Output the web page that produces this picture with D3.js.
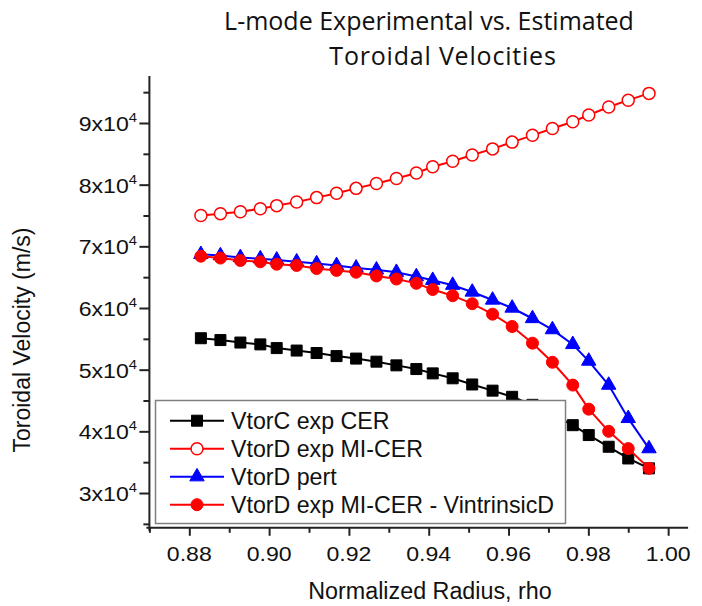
<!DOCTYPE html>
<html><head><meta charset="utf-8">
<script src="https://cdn.jsdelivr.net/npm/d3@7"></script>
<style>
html,body{margin:0;padding:0;background:#fff;}
svg{display:block;}
text{font-family:"Liberation Sans",Arial,sans-serif;fill:#111;}
</style></head>
<body><svg id="chart" width="702" height="606"></svg>
<script>
// ---- data ----
const rho = [0.8829,0.8878,0.8928,0.8978,0.9019,0.9069,0.9119,0.9169,0.9218,0.9269,0.9319,0.9369,
             0.9410,0.9460,0.9509,0.9560,0.9609,0.9660,0.9710,0.9761,0.9801,0.9851,0.9900,0.9952];
const vtorC_CER = [55100,54800,54400,54100,53500,53100,52700,52200,51800,51300,50700,50100,
                   49400,48600,47600,46600,45600,44300,42700,41000,39400,37500,35600,34000];
const vtorD_MICER = [75000,75300,75600,76100,76600,77200,77900,78600,79400,80200,81000,81900,
                     82900,83800,84800,85800,86900,88000,89100,90200,91300,92600,93700,94800];
const vtorD_pert = [68700,68500,68200,68000,67800,67500,67200,66900,66500,66200,65800,65100,
                    64500,63700,62600,61300,60000,58300,56500,54100,51400,47500,42100,37200];
const vtorD_MICER_Vint = [68400,68100,67700,67500,67100,66900,66400,66100,65800,65200,64700,64000,
                          63000,62000,60700,59000,57000,54300,51200,47500,43600,40000,37200,34000];
const seriesNames = ["VtorC exp CER","VtorD exp MI-CER","VtorD pert","VtorD exp MI-CER - VintrinsicD"];
const xTicks = [0.88,0.90,0.92,0.94,0.96,0.98,1.00];
const xMinorTicks = [0.87,0.89,0.91,0.93,0.95,0.97,0.99];
const yTickMantissa = [3,4,5,6,7,8,9];
const yMinorTicks = [25000,35000,45000,55000,65000,75000,85000,95000];
const titleLines = ["L-mode Experimental vs. Estimated","Toroidal Velocities"];
const xTitle = "Normalized Radius, rho";
const yTitle = "Toroidal Velocity (m/s)";

// ---- scales ----
const x = d3.scaleLinear().domain([0.87,1.005]).range([149.4,688.1]);
const y = d3.scaleLinear().domain([24360,97620]).range([527.8,76]);
const svg = d3.select("#chart");

// ---- title ----
const titleX = [429,443], titleSpacing = ["0px","0.8px"];
svg.selectAll("text.title").data(titleLines).join("text")
  .attr("class","title").attr("x",(d,i)=>titleX[i]).attr("y",(d,i)=>30+i*35)
  .attr("text-anchor","middle").style("font-family","'Open Sans',sans-serif")
  .style("letter-spacing",(d,i)=>titleSpacing[i])
  .style("font-size","25px").text(d=>d);

// ---- axes ----
const axCol = "#222";
const gx = svg.append("g").attr("transform",`translate(0,${y.range()[0]})`);
gx.call(d3.axisBottom(x).tickValues(xTicks).tickSize(8).tickFormat(""));
const gxm = svg.append("g").attr("transform",`translate(0,${y.range()[0]})`);
gxm.call(d3.axisBottom(x).tickValues(xMinorTicks).tickSize(5).tickFormat(""));
[gx,gxm].forEach(g=>{g.select(".domain").remove();g.selectAll("line").attr("stroke",axCol).attr("stroke-width",2);});
const fmt = d3.format(".2f");
svg.append("g").selectAll("text").data(xTicks).join("text")
  .attr("transform",d=>`translate(${x(d)},561) scale(1.1,1)`)
  .attr("text-anchor","middle").style("font-size","21px").text(d=>fmt(d));

const gy = svg.append("g").attr("transform",`translate(${x.range()[0]},0)`);
gy.call(d3.axisLeft(y).tickValues(yTickMantissa.map(m=>m*1e4)).tickSize(10).tickFormat(""));
const gym = svg.append("g").attr("transform",`translate(${x.range()[0]},0)`);
gym.call(d3.axisLeft(y).tickValues(yMinorTicks).tickSize(6).tickFormat(""));
[gy,gym].forEach(g=>{g.select(".domain").remove();g.selectAll("line").attr("stroke",axCol).attr("stroke-width",2);});
// y tick labels with superscripts
const yl = svg.append("g");
yTickMantissa.forEach(m=>{
  const t = yl.append("text").attr("transform",`translate(137,${y(m*1e4)+8}) scale(1.1,1)`)
    .attr("text-anchor","end").style("font-size","21px");
  t.append("tspan").text(m+"x10");
  t.append("tspan").attr("dy",-9).style("font-size","13.5px").text("4");
});
// axis lines
svg.append("line").attr("x1",x.range()[0]-3).attr("x2",x.range()[1]).attr("y1",y.range()[0]).attr("y2",y.range()[0])
  .attr("stroke",axCol).attr("stroke-width",2);
svg.append("line").attr("x1",x.range()[0]).attr("x2",x.range()[0]).attr("y1",y.range()[1]).attr("y2",y.range()[0]+3)
  .attr("stroke",axCol).attr("stroke-width",2);

// axis titles
svg.append("text").attr("x",430).attr("y",599).attr("text-anchor","middle").style("font-size","23.3px").text(xTitle);
svg.append("text").attr("transform","translate(30,340) rotate(-90)").attr("text-anchor","middle").style("font-size","23px").text(yTitle);

// ---- series ----
const line = vals => d3.line().x((d,i)=>x(rho[i])).y(d=>y(d))(vals);
const sym = {
  square: d3.symbol().type(d3.symbolSquare).size(121),
  circle: d3.symbol().type(d3.symbolCircle).size(113),
  triangle: d3.symbol().type(d3.symbolTriangle).size(90)
};
const series = [
  {vals:vtorC_CER, color:"#000", shape:"square", fill:"#000"},
  {vals:vtorD_MICER, color:"#ff0000", shape:"circle", fill:"#fff"},
  {vals:vtorD_pert, color:"#0000ff", shape:"triangle", fill:"#0000ff"},
  {vals:vtorD_MICER_Vint, color:"#ff0000", shape:"circle", fill:"#ff0000"}
];
series.forEach(s=>{
  const g = svg.append("g");
  g.append("path").attr("d",line(s.vals)).attr("fill","none").attr("stroke",s.color).attr("stroke-width",2);
  g.selectAll("path.m").data(s.vals).join("path").attr("class","m")
    .attr("transform",(d,i)=>`translate(${x(rho[i])},${y(d)})`)
    .attr("d",sym[s.shape]()).attr("fill",s.fill).attr("stroke",s.color).attr("stroke-width",s.fill==="#fff"?1.5:1);
});

// ---- legend ----
const lg = svg.append("g");
lg.append("rect").attr("x",155.5).attr("y",400.5).attr("width",410).attr("height",123)
  .attr("fill","#fff").attr("stroke","#808080").attr("stroke-width",1.5);
series.forEach((s,i)=>{
  const yy = 420.7 + i*28;
  lg.append("line").attr("x1",170).attr("x2",224).attr("y1",yy).attr("y2",yy).attr("stroke",s.color).attr("stroke-width",2);
  lg.append("path").attr("transform",`translate(197,${yy})`).attr("d",sym[s.shape]())
    .attr("fill",s.fill).attr("stroke",s.color).attr("stroke-width",s.fill==="#fff"?1.5:1);
  lg.append("text").attr("x",231).attr("y",yy+8.2).style("font-size","23.2px").text(seriesNames[i]);
});
</script></body></html>
